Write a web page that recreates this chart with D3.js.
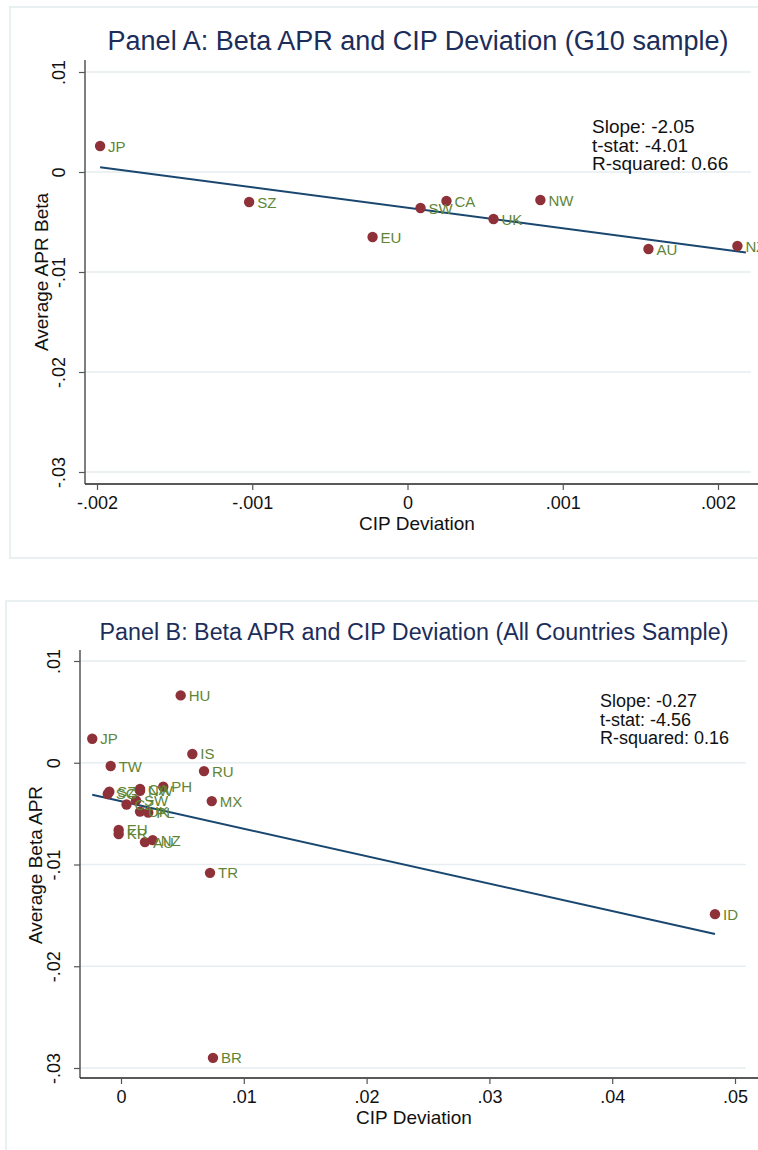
<!DOCTYPE html>
<html>
<head>
<meta charset="utf-8">
<script src="https://cdn.jsdelivr.net/npm/d3@7"></script>
<style>
  body { margin: 0; background: #fff; }
  svg text { font-family: "Liberation Sans", Arial, sans-serif; }
</style>
</head>
<body>
<div id="chart"></div>
<script>
// Panel A: G10 sample
const labelsA = ['JP', 'SZ', 'EU', 'SW', 'CA', 'UK', 'NW', 'AU', 'NZ'];
const cipA = [-0.00198, -0.00102, -0.000225, 0.000084, 0.000251, 0.000554, 0.000856, 0.001552, 0.002125];
const betaA = [0.0026, -0.0030, -0.0065, -0.0036, -0.0029, -0.0047, -0.0028, -0.0077, -0.0074];
const fitRangeA = [-0.00198, 0.00218];
const fitA = { slope: -2.05, intercept: -0.00358 };
const statsA = ['Slope: -2.05', 't-stat: -4.01', 'R-squared: 0.66'];
const xTicksA = [-0.002, -0.001, 0, 0.001, 0.002];
const xTickLabelsA = ['-.002', '-.001', '0', '.001', '.002'];

// Panel B: all countries sample
const labelsB = ['JP', 'TW', 'HU', 'IS', 'RU', 'PH', 'MX', 'TR', 'BR', 'ID',
  'SG', 'SZ', 'CA', 'NW', 'CZ', 'SW', 'UK', 'PL', 'EU', 'KR', 'NZ', 'AU'];
const cipB = [-0.00234, -0.00084, 0.00486, 0.00581, 0.00676, 0.00344, 0.00739, 0.00725, 0.00749, 0.04837,
  -0.00108, -0.00095, 0.00155, 0.00155, 0.00045, 0.00122, 0.00155, 0.00222, -0.00019, -0.00019, 0.00258, 0.00195];
const betaB = [0.00236, -0.00032, 0.00662, 0.00086, -0.00082, -0.00236, -0.00377, -0.01082, -0.0290, -0.01488,
  -0.00307, -0.00285, -0.00258, -0.00275, -0.0041, -0.0037, -0.0048, -0.0049, -0.0066, -0.0070, -0.0076, -0.0078];
const fitRangeB = [-0.00234, 0.04837];
const fitB = { slope: -0.27, intercept: -0.00378 };
const statsB = ['Slope: -0.27', 't-stat: -4.56', 'R-squared: 0.16'];
const xTicksB = [0, 0.01, 0.02, 0.03, 0.04, 0.05];
const xTickLabelsB = ['0', '.01', '.02', '.03', '.04', '.05'];

const yTicks = [-0.03, -0.02, -0.01, 0, 0.01];
const yTickLabels = ['-.03', '-.02', '-.01', '0', '.01'];

const WIDTH = 758;
const HEIGHT = 1150;
const DOT = '#8f3139';
const LABEL = '#5f8536';
const LINE = '#1a476f';
const TITLE = '#1c2d5a';
const GRID = '#e6eef1';
const FRAME = '#e8f0f2';

const svg = d3.select('#chart').append('svg').attr('width', WIDTH).attr('height', HEIGHT);

const drawPanel = (p) => {
  const xScale = d3.scaleLinear().domain(p.xDomain).range(p.xRange);
  const yScale = d3.scaleLinear().domain([-0.03, 0.01]).range(p.yRange);
  const g = svg.append('g');

  g.append('rect')
    .attr('x', p.frame[0]).attr('y', p.frame[1])
    .attr('width', p.frame[2]).attr('height', p.frame[3])
    .attr('fill', 'none').attr('stroke', FRAME).attr('stroke-width', 2);

  g.append('text')
    .attr('x', p.titleX).attr('y', p.titleY)
    .attr('text-anchor', 'middle').attr('font-size', p.titleSize).attr('fill', TITLE)
    .text(p.title);

  // gridlines
  g.append('g').selectAll('line').data(yTicks).join('line')
    .attr('x1', p.axisX).attr('x2', p.gridEnd)
    .attr('y1', (d) => yScale(d)).attr('y2', (d) => yScale(d))
    .attr('stroke', GRID).attr('stroke-width', 1.5);

  const yAxis = g.append('g')
    .attr('transform', `translate(${p.axisX},0)`)
    .call(d3.axisLeft(yScale).tickValues(yTicks).tickSize(6).tickSizeOuter(0)
      .tickFormat((d, i) => yTickLabels[i]));
  yAxis.select('.domain').attr('stroke', '#555').attr('stroke-width', 1.5)
    .attr('d', `M0,${p.axisTop}V${p.axisY}`);
  yAxis.selectAll('.tick line').attr('stroke', '#555').attr('stroke-width', 1.2);
  yAxis.selectAll('.tick text')
    .attr('font-size', 18).attr('fill', '#111')
    .attr('transform', 'rotate(-90)')
    .attr('x', 0).attr('y', -20).attr('dy', 0)
    .attr('text-anchor', 'middle');

  const xAxis = g.append('g')
    .attr('transform', `translate(0,${p.axisY})`)
    .call(d3.axisBottom(xScale).tickValues(p.xTicks).tickSize(6).tickSizeOuter(0)
      .tickFormat((d, i) => p.xTickLabels[i]));
  xAxis.select('.domain').attr('stroke', '#222').attr('stroke-width', 1.5)
    .attr('d', `M${p.axisX},0H${WIDTH + 10}`);
  xAxis.selectAll('.tick line').attr('stroke', '#555').attr('stroke-width', 1.2);
  xAxis.selectAll('.tick text').attr('font-size', 18).attr('fill', '#111').attr('y', 10).attr('dy', '0.85em');

  g.append('text')
    .attr('x', p.xTitleX).attr('y', p.axisY + 46)
    .attr('text-anchor', 'middle').attr('font-size', 19).attr('fill', '#111')
    .text('CIP Deviation');

  g.append('text')
    .attr('transform', `translate(${p.yTitleX},${p.yTitleY}) rotate(-90)`)
    .attr('text-anchor', 'middle').attr('font-size', 19).attr('fill', '#111')
    .text(p.yTitle);

  // fitted line
  const fit = p.fitRange.map((x) => [x, p.fit.intercept + p.fit.slope * x]);
  g.append('path')
    .attr('d', d3.line().x((d) => xScale(d[0])).y((d) => yScale(d[1]))(fit))
    .attr('fill', 'none').attr('stroke', LINE).attr('stroke-width', 2);

  const points = p.labels.map((label, i) => ({ label, x: p.cip[i], y: p.beta[i] }));
  g.append('g').selectAll('circle').data(points).join('circle')
    .attr('cx', (d) => xScale(d.x)).attr('cy', (d) => yScale(d.y))
    .attr('r', 5.2).attr('fill', DOT);
  g.append('g').selectAll('text').data(points).join('text')
    .attr('x', (d) => xScale(d.x) + 8).attr('y', (d) => yScale(d.y) + 5.5)
    .attr('font-size', 15).attr('fill', LABEL)
    .text((d) => d.label);

  g.append('g').selectAll('text').data(p.stats).join('text')
    .attr('x', p.statsX).attr('y', (d, i) => p.statsY + i * 18.5)
    .attr('font-size', p.statsSize).attr('fill', '#111')
    .text((d) => d);
};

drawPanel({
  title: 'Panel A: Beta APR and CIP Deviation (G10 sample)',
  titleX: 418, titleY: 50, titleSize: 27,
  frame: [10, 7, 770, 551],
  xDomain: [-0.002, 0.002], xRange: [97, 718],
  yRange: [472, 72],
  axisX: 85, axisY: 484, axisTop: 60, gridEnd: 751,
  xTicks: xTicksA, xTickLabels: xTickLabelsA,
  xTitleX: 417, yTitle: 'Average APR Beta', yTitleX: 48, yTitleY: 272,
  labels: labelsA, cip: cipA, beta: betaA,
  fitRange: fitRangeA, fit: fitA,
  stats: statsA, statsX: 592, statsY: 133, statsSize: 19,
});

drawPanel({
  title: 'Panel B: Beta APR and CIP Deviation (All Countries Sample)',
  titleX: 414, titleY: 640, titleSize: 23.3,
  frame: [6, 601, 770, 600],
  xDomain: [0, 0.05], xRange: [121, 735],
  yRange: [1068, 661],
  axisX: 80, axisY: 1078, axisTop: 650, gridEnd: 746,
  xTicks: xTicksB, xTickLabels: xTickLabelsB,
  xTitleX: 414, yTitle: 'Average Beta APR', yTitleX: 42, yTitleY: 865,
  labels: labelsB, cip: cipB, beta: betaB,
  fitRange: fitRangeB, fit: fitB,
  stats: statsB, statsX: 600, statsY: 707, statsSize: 18,
});
</script>
</body>
</html>
